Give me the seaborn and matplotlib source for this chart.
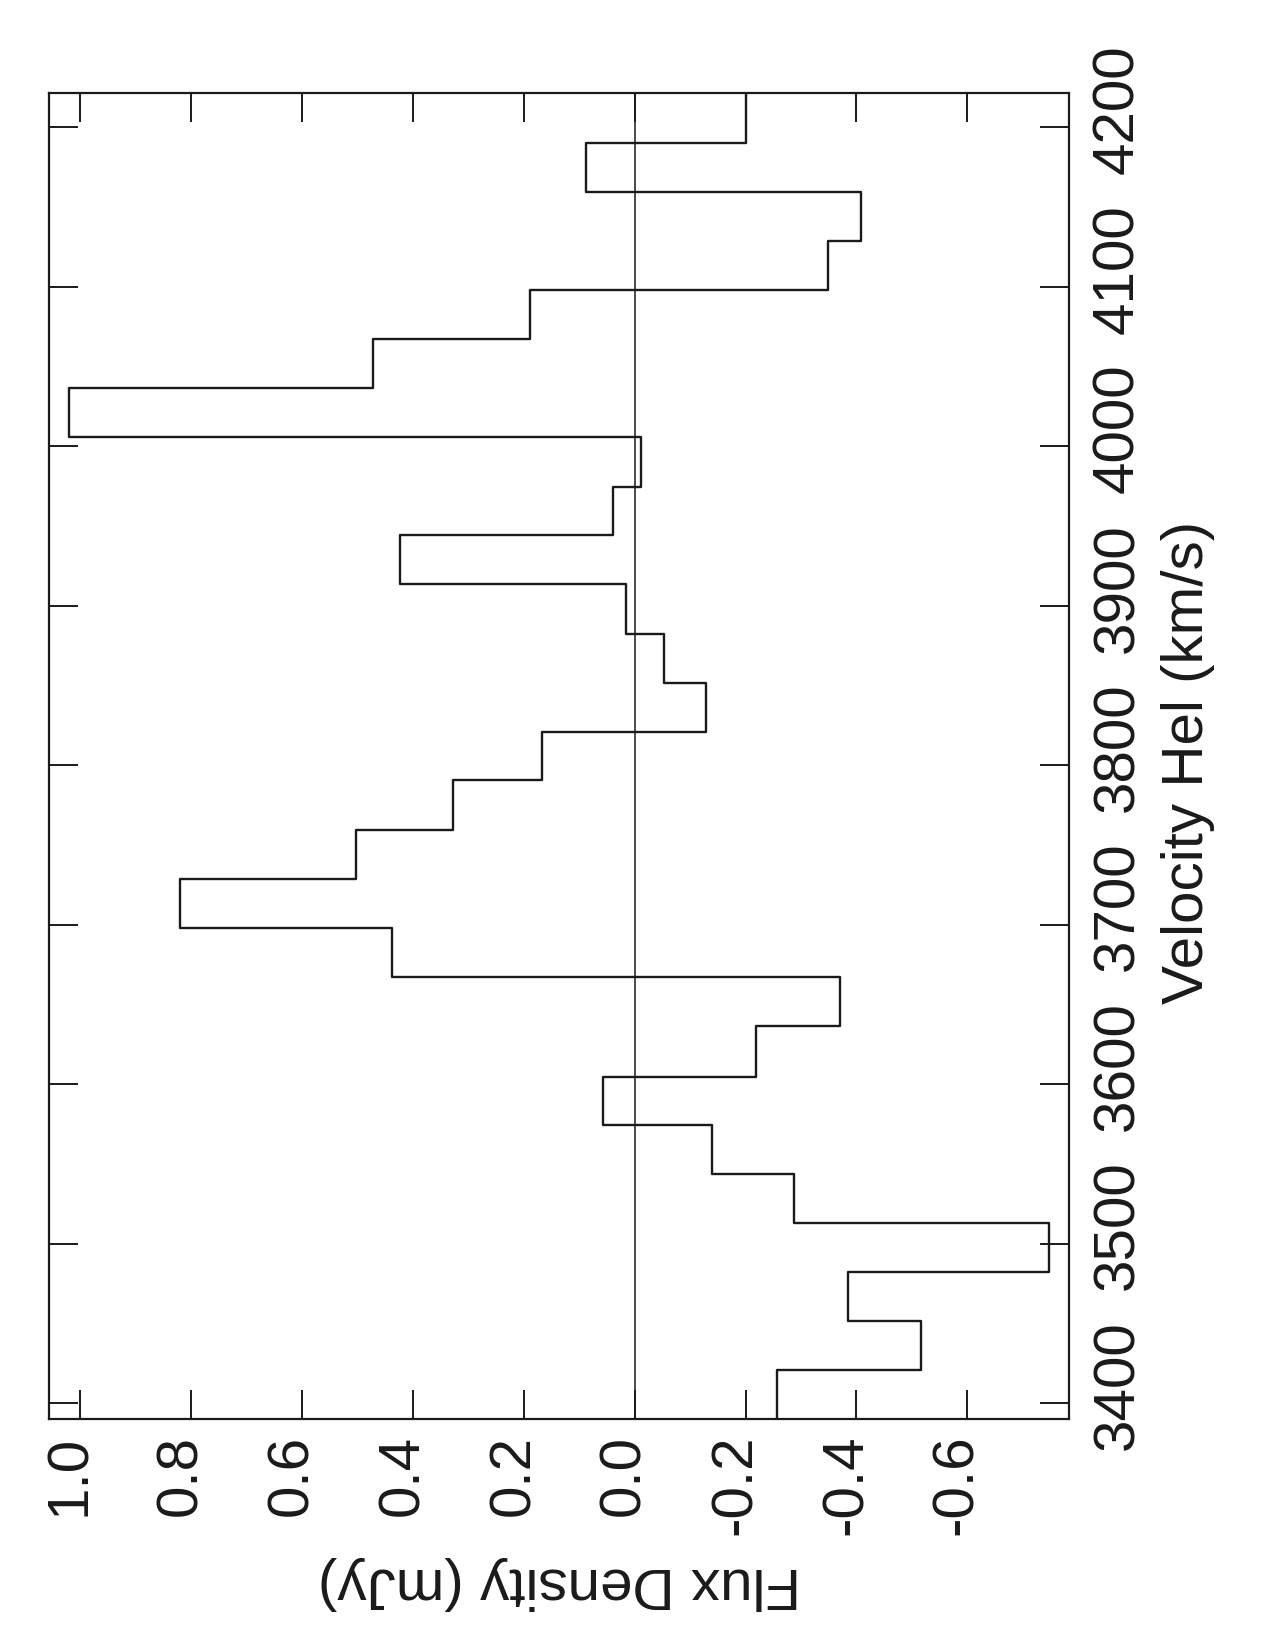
import matplotlib
matplotlib.use('Agg')
import matplotlib.pyplot as plt
from matplotlib.transforms import ScaledTranslation
import seaborn as sns
import pandas as pd

# channel edges (km/s) and flux per channel (mJy)
velocity_edges = [3389.8, 3420.7, 3451.2, 3481.9, 3512.9, 3543.6, 3574.3, 3604.6,
                  3636.4, 3667.1, 3697.7, 3728.4, 3759.3, 3790.5, 3821.0, 3851.7,
                  3882.2, 3913.4, 3944.1, 3974.6, 4005.6, 4036.3, 4067.1, 4098.0,
                  4128.7, 4159.2, 4190.3, 4221.3]
flux = [-0.257, -0.516, -0.384, -0.748, -0.288, -0.140, 0.058, -0.219, -0.370,
        0.438, 0.820, 0.503, 0.328, 0.168, -0.128, -0.053, 0.015, 0.424, 0.040,
        -0.011, 1.020, 0.473, 0.188, -0.349, -0.409, 0.087, -0.201]

flux_ticks = [1.0, 0.8, 0.6, 0.4, 0.2, 0.0, -0.2, -0.4, -0.6]
flux_labels = ['1.0', '0.8', '0.6', '0.4', '0.2', '0.0', '-0.2', '-0.4', '-0.6']
velocity_ticks = [3400, 3500, 3600, 3700, 3800, 3900, 4000, 4100, 4200]

sns.set_style('ticks')
plt.rcParams['font.family'] = ['Liberation Sans', 'DejaVu Sans']
plt.rcParams['axes.unicode_minus'] = False

ink = '#1a1a1a'
fig = plt.figure(figsize=(12.75, 16.5), dpi=100)
ax = fig.add_axes([0.0387, 0.1398, 0.7995, 0.8037])

# the page is turned: velocity runs up, flux runs right-to-left
steps = pd.DataFrame({'Velocity': velocity_edges, 'Flux': flux + [flux[-1]]})
sns.lineplot(data=steps, x='Flux', y='Velocity', sort=False, estimator=None,
             drawstyle='steps-pre', color=ink, lw=1.7, ax=ax)
ax.axvline(0, color=ink, lw=1.1)

ax.set_xlim(1.056, -0.783)
ax.set_ylim(velocity_edges[0], velocity_edges[-1])
ax.set_xticks(flux_ticks, flux_labels)
ax.set_yticks(velocity_ticks)

ax.tick_params(direction='in', length=21, width=1.4, top=True, bottom=True,
               left=True, right=True, labelsize=42, colors=ink)
ax.tick_params(axis='x', labelrotation=90, pad=11)
ax.tick_params(axis='y', labelrotation=90, pad=16, labelleft=False, labelright=True)

# labels sit a little off their ticks in the original
for lab in ax.get_yticklabels():
    lab.set_va('center')
    lab.set_transform(lab.get_transform() + ScaledTranslation(0, 0.18, fig.dpi_scale_trans))
for lab in ax.get_xticklabels():
    lab.set_transform(lab.get_transform() + ScaledTranslation(-0.10, 0, fig.dpi_scale_trans))

ax.set_xlabel('Flux Density (mJy)', fontsize=42, rotation=180, va='center', ha='center', color=ink)
ax.xaxis.set_label_coords(0.5, -0.1235)
ax.yaxis.set_label_position('right')
ax.set_ylabel('Velocity Hel (km/s)', fontsize=42, rotation=90, va='center', ha='center', color=ink)
ax.yaxis.set_label_coords(1.1167, 0.495)

for s in ax.spines.values():
    s.set_linewidth(1.6)
    s.set_color(ink)

fig.savefig('out.png', dpi=100)
